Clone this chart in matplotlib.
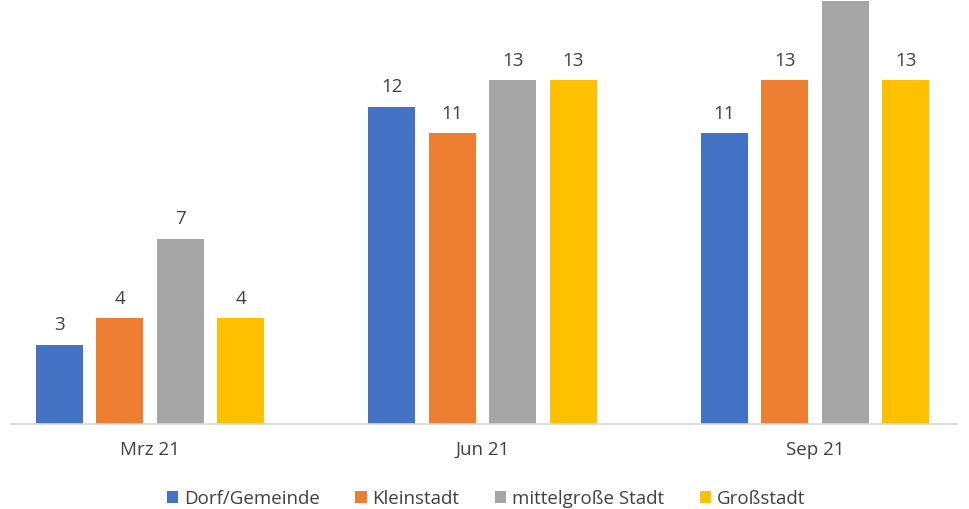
import matplotlib

matplotlib.use("Agg")
import matplotlib.pyplot as plt
import numpy as np

# --- Data ---------------------------------------------------------------
categories = ["Mrz 21", "Jun 21", "Sep 21"]
series_names = ["Dorf/Gemeinde", "Kleinstadt", "mittelgroße Stadt", "Großstadt"]
dorf = [3, 12, 11]
kleinstadt = [4, 11, 13]
mittelstadt = [7, 13, 16]
grossstadt = [4, 13, 13]
series_values = [dorf, kleinstadt, mittelstadt, grossstadt]

colors = ["#4472C4", "#ED7D31", "#A5A5A5", "#FFC000"]
c_text = "#404040"
c_axis = "#D9D9D9"

plt.rcParams["font.family"] = ["Open Sans", "DejaVu Sans"]

fig = plt.figure(figsize=(9.7, 5.09), dpi=100)
ax = fig.add_axes([11 / 970, 85 / 509, 946 / 970, 424 / 509])

y_top = 16.03  # the original image is cropped just above the tallest bar

x = np.arange(len(categories))
pitch = 0.182
width = 0.1414
for i, (name, vals, col) in enumerate(zip(series_names, series_values, colors)):
    pos = x + (i - 1.5) * pitch
    bars = ax.bar(pos, vals, width=width, color=col, label=name, zorder=2)
    for b, v in zip(bars, vals):
        # labels above the crop are not visible in the source
        if v >= y_top - 1:
            continue
        ax.annotate(
            f"{v}",
            xy=(b.get_x() + b.get_width() / 2, v),
            xytext=(0, 7.5),
            textcoords="offset points",
            ha="center",
            va="bottom",
            fontsize=13.5,
            color=c_text,
        )

ax.set_xlim(-0.418, 2.427)
ax.set_ylim(0, y_top)
ax.set_xticks(x)
ax.set_xticklabels(categories, fontsize=13.5, color=c_text)
ax.tick_params(axis="x", length=0, pad=12)
ax.set_yticks([])
for side in ["top", "right", "left"]:
    ax.spines[side].set_visible(False)
ax.spines["bottom"].set_color(c_axis)
ax.spines["bottom"].set_linewidth(1.2)

fig.legend(
    loc="center",
    bbox_to_anchor=(0.501, 10 / 509),
    ncol=4,
    frameon=False,
    fontsize=13.5,
    handlelength=0.6,
    handleheight=0.6,
    handletextpad=0.3,
    columnspacing=1.9,
    labelcolor=c_text,
)

fig.savefig("out.png", dpi=100, facecolor="white")
